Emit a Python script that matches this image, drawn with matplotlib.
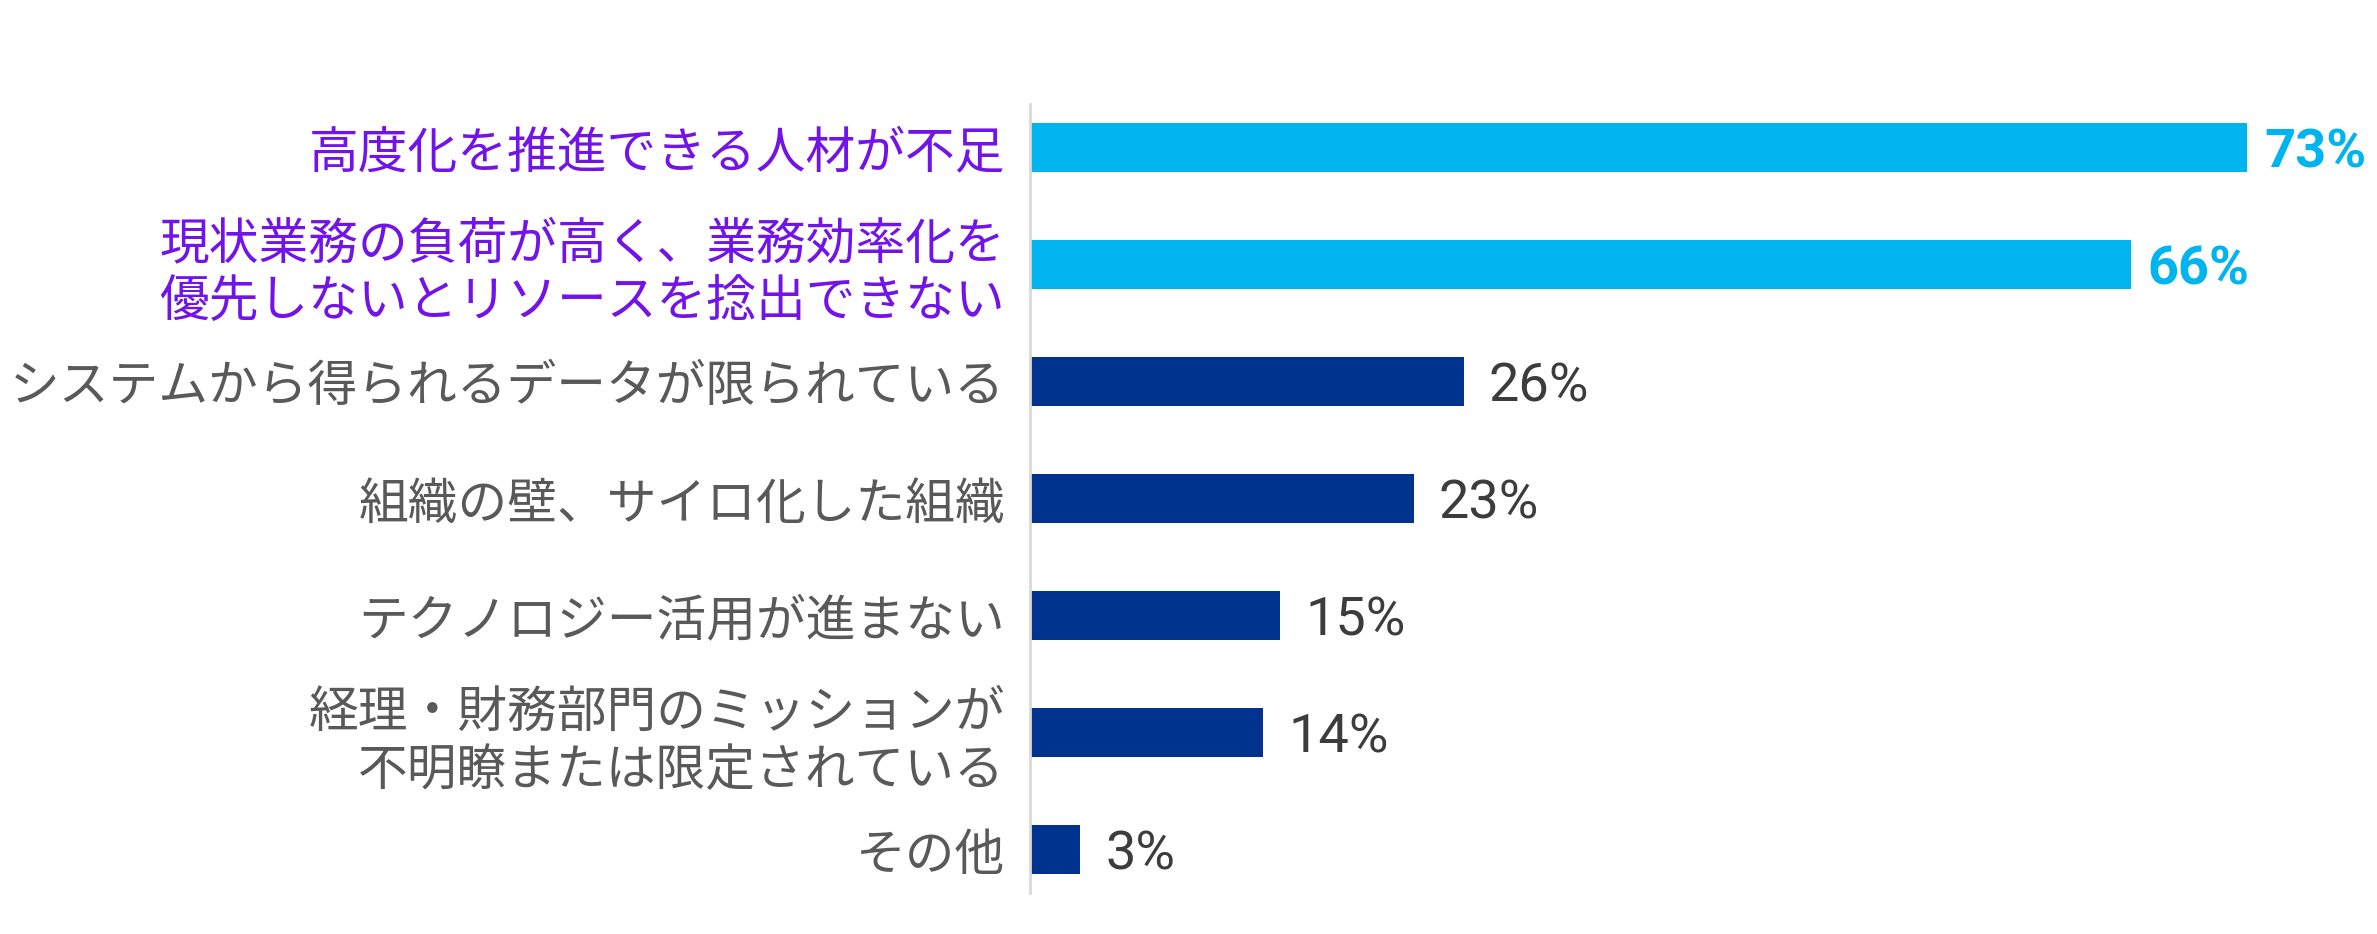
import matplotlib
matplotlib.use("Agg")
import matplotlib.pyplot as plt

plt.rcParams['font.family'] = ['Noto Sans CJK JP', 'DejaVu Sans']

categories = [
    "高度化を推進できる人材が不足",
    "現状業務の負荷が高く、業務効率化を\n優先しないとリソースを捻出できない",
    "システムから得られるデータが限られている",
    "組織の壁、サイロ化した組織",
    "テクノロジー活用が進まない",
    "経理・財務部門のミッションが\n不明瞭または限定されている",
    "その他",
]
values = [73, 66, 26, 23, 15, 14, 3]
highlight = [True, True, False, False, False, False, False]

LIGHT_BLUE = "#00B4F0"
NAVY = "#00338D"
PURPLE = "#7213EA"
LABEL_GREY = "#595959"
VALUE_GREY = "#3C3C3C"

fig = plt.figure(figsize=(23.77, 9.34), dpi=100)
W, H = 2377, 934
ax = fig.add_axes([1030 / W, 1 - 893 / H, 1334 / W, (893 - 104) / H])

ypos = list(range(len(values)))
colors = [LIGHT_BLUE if h else NAVY for h in highlight]
ax.barh(ypos, values, height=0.42, color=colors)

ax.set_xlim(0, 80)
ax.set_ylim(6.37, -0.37)

ax.set_yticks(ypos)
ax.set_yticklabels(categories)
ax.tick_params(axis='y', length=0, pad=18)
ax.set_xticks([])
for lab, h in zip(ax.get_yticklabels(), highlight):
    lab.set_color(PURPLE if h else LABEL_GREY)
    lab.set_fontsize(35.8)
    lab.set_linespacing(1.15)
    lab.set_horizontalalignment('right')
    lab.set_multialignment('right')

for s in ['top', 'right', 'bottom']:
    ax.spines[s].set_visible(False)
ax.spines['left'].set_color('#D9D9D9')
ax.spines['left'].set_linewidth(2)

for y, v, h in zip(ypos, values, highlight):
    ax.annotate(f"{v}%", (v, y), xytext=(12 if h else 18, 0), textcoords='offset points',
                va='center_baseline', ha='left', fontsize=39,
                family=['Roboto', 'DejaVu Sans'],
                fontweight='bold' if h else 'normal',
                color=LIGHT_BLUE if h else VALUE_GREY, annotation_clip=False)

fig.savefig("out.png", dpi=100, facecolor='white')
